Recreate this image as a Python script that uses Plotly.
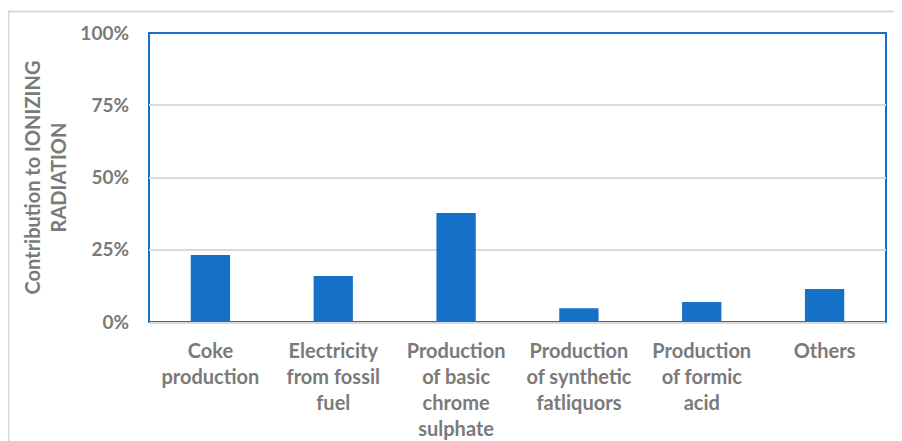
import plotly.graph_objects as go

categories = [
    "Coke<br>production",
    "Electricity<br>from fossil<br>fuel",
    "Production<br>of basic<br>chrome<br>sulphate",
    "Production<br>of synthetic<br>fatliquors",
    "Production<br>of formic<br>acid",
    "Others",
]
values = [0.232, 0.159, 0.377, 0.048, 0.069, 0.114]
y_ticks = [0, 0.25, 0.5, 0.75, 1.0]
y_title = "Contribution to IONIZING<br>RADIATION"

# page body adds an 8px offset; figure drawn in shifted coordinates
OFF = 8
W, H = 902 - OFF, 441 - OFF
L, R, T, B = 149 - OFF, 16, 33 - OFF, 119
pw, ph = W - L - R, H - T - B

def px(x):
    return (x - OFF - L) / pw

def py(y):
    return (H - B - (y - OFF)) / ph

font_family = "Lato, 'Open Sans', sans-serif"
gray = "#7a7a7a"
blue = "#1570c8"

fig = go.Figure()
fig.add_trace(go.Bar(
    x=categories, y=values, marker=dict(color=blue, line=dict(width=0)),
    width=0.32,
))

fig.update_layout(
    width=W, height=H,
    margin=dict(l=L, r=R, t=T, b=B, autoexpand=False),
    paper_bgcolor="white", plot_bgcolor="white",
    showlegend=False,
    font=dict(family=font_family, color=gray, size=19),
    xaxis=dict(
        showline=True, linecolor="#d9d9d9", linewidth=2,
        showgrid=False, tickfont=dict(size=20, color=gray, family=font_family, weight="bold"),
        ticklabelstandoff=10, automargin=False,
    ),
    yaxis=dict(
        range=[0, 1], tickvals=y_ticks, tickformat=".0%",
        showgrid=True, gridcolor="#d9d9d9", gridwidth=1.5,
        zeroline=False, showline=False,
        tickfont=dict(size=19, color=gray, family=font_family, weight="bold"),
        ticklabelstandoff=19, automargin=False,
        title=dict(text=y_title, font=dict(size=20, color=gray, family=font_family, weight="bold"), standoff=8),
    ),
    shapes=[
        dict(type="rect", xref="paper", yref="paper", x0=0, x1=1, y0=0, y1=1,
             line=dict(color=blue, width=2), layer="below"),
        dict(type="rect", xref="paper", yref="paper",
             x0=px(8.5), x1=px(915), y0=py(460), y1=py(11.5),
             line=dict(color="#d9d9d9", width=2), layer="below"),
    ],
)

fig.write_html("out.html")
